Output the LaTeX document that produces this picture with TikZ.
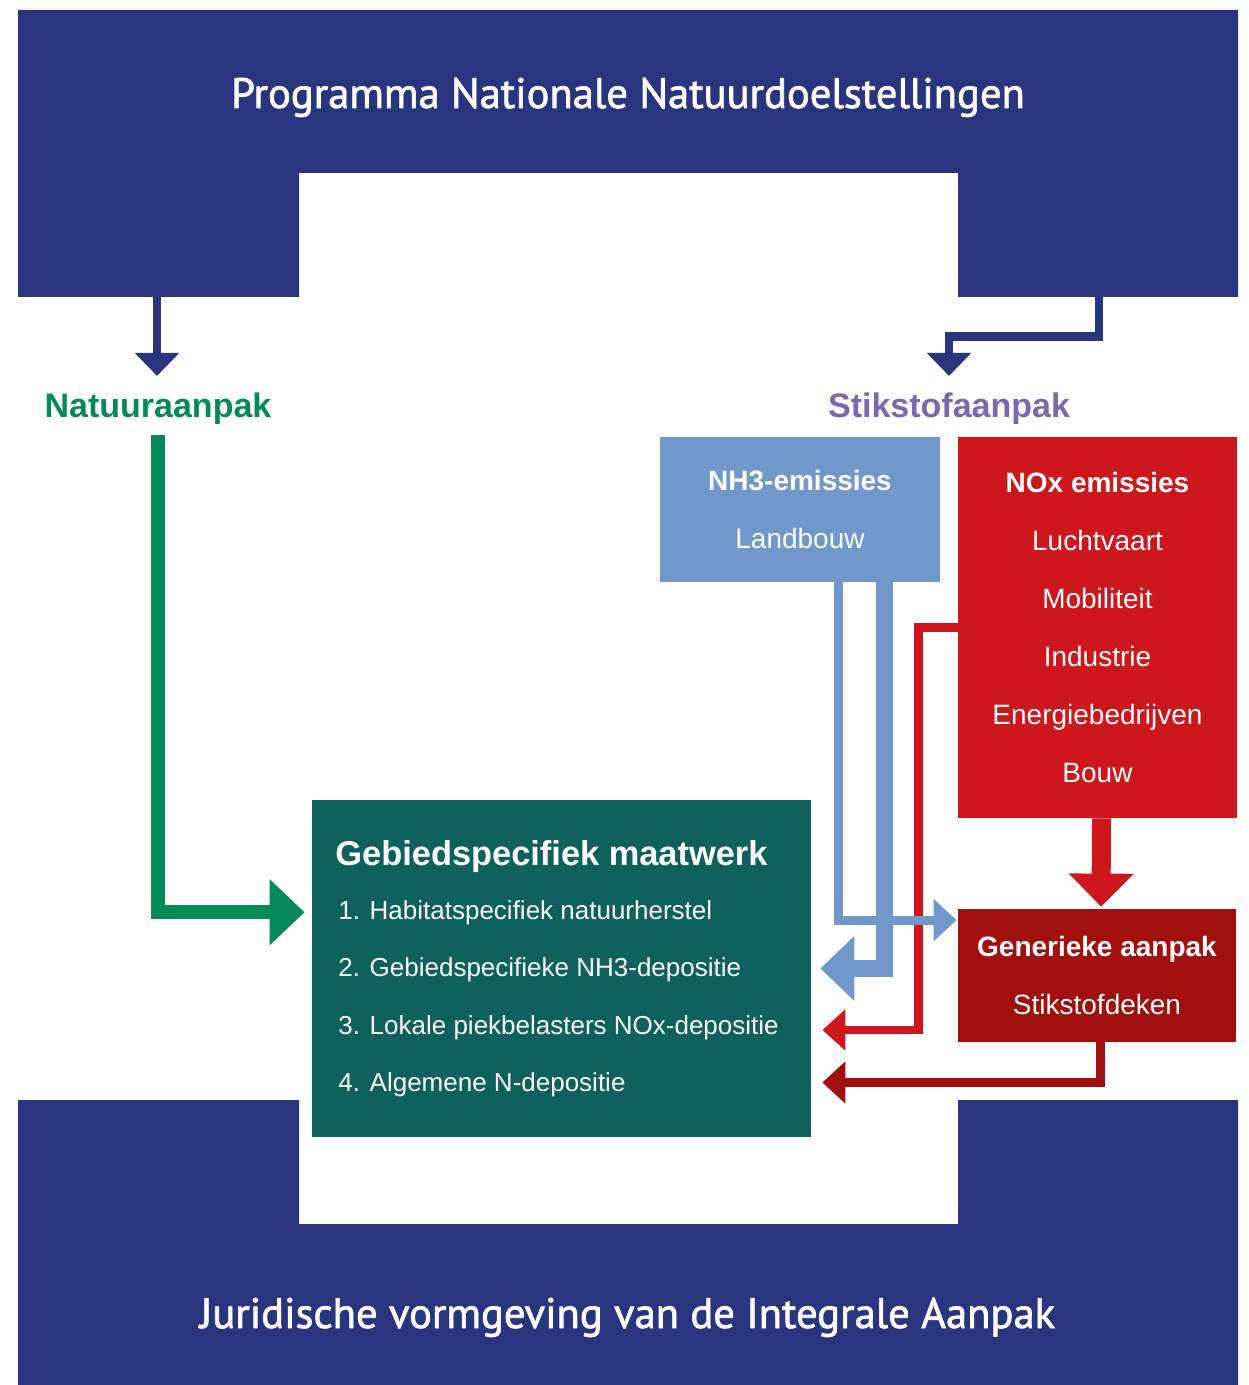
\documentclass[tikz,border=0pt]{standalone}
\usepackage{fontspec}
\setmainfont{Liberation Sans}
\newfontfamily\dinfont[FakeBold=1.6]{PT Sans}
\usetikzlibrary{arrows.meta}
\definecolor{navy}{HTML}{29367F}
\definecolor{nhblue}{HTML}{7298CB}
\definecolor{noxred}{HTML}{CE171C}
\definecolor{genred}{HTML}{A10F0E}
\definecolor{teal}{HTML}{0E615C}
\definecolor{natgreen}{HTML}{078A5A}
\definecolor{stikpurple}{HTML}{7A69AE}
\tikzset{
  frametitle/.style={text=white, inner sep=0pt, anchor=base, font=\dinfont\fontsize{21.3}{24}\selectfont},
  headlabel/.style={inner sep=0pt, anchor=base, font=\bfseries\fontsize{17}{20}\selectfont},
  colbox/.style={inner sep=0pt, text=white, align=center, font=\fontsize{14}{29}\selectfont},
  itemtext/.style={inner sep=0pt, anchor=base west, text=white, font=\fontsize{13}{15}\selectfont},
  conn/.style={line join=miter},
  navyarrow/.style={conn, draw=navy, line width=4.25pt, -{Triangle[width=21.5pt,length=11.5pt]}, navy},
  greenarrow/.style={conn, draw=natgreen, line width=7pt, -{Triangle[width=32pt,length=17.5pt]}, natgreen},
  thinblue/.style={conn, draw=nhblue, line width=4.5pt, -{Triangle[width=20.5pt,length=11.5pt]}, nhblue},
  thickblue/.style={conn, draw=nhblue, line width=8.5pt, -{Triangle[width=31.5pt,length=17pt]}, nhblue},
  thinred/.style={conn, draw=noxred, line width=4.25pt, -{Triangle[width=20pt,length=11.5pt]}, noxred},
  thickred/.style={conn, draw=noxred, line width=9.5pt, -{Triangle[width=31.5pt,length=16.5pt]}, noxred},
  darkred/.style={conn, draw=genred, line width=4.5pt, -{Triangle[width=20.5pt,length=11.5pt]}, genred},
}
\begin{document}
\begin{tikzpicture}[x=0.5pt,y=-0.5pt]
\useasboundingbox (0,0) rectangle (1248,1385);
\fill[white] (0,0) rectangle (1248,1385);
% frames
\fill[navy] (18,10) -- (1238,10) -- (1238,297) -- (958,297) -- (958,173) -- (299,173) -- (299,297) -- (18,297) -- cycle;
\fill[navy] (18,1385) -- (18,1100) -- (299,1100) -- (299,1224) -- (958,1224) -- (958,1100) -- (1238,1100) -- (1238,1385) -- cycle;
\node[frametitle] (ttop) at (628,108) {Programma Nationale Natuurdoelstellingen};
\node[frametitle] (tbot) at (627.5,1328) {Juridische vormgeving van de Integrale Aanpak};
\coordinate (legL) at (157,297);
\coordinate (legR) at (1099,297);
% labels
\node[headlabel, text=natgreen] (nat) at (158,417) {Natuuraanpak};
\node[headlabel, text=stikpurple] (stik) at (949,417) {Stikstofaanpak};
% boxes
\node[colbox, fill=nhblue, minimum width=140pt, minimum height=72.5pt] (nh) at (800,509.5)
  {\textbf{NH3-emissies}\\Landbouw};
\node[colbox, fill=noxred, minimum width=139.5pt, minimum height=190.5pt] (nox) at (1097.5,627.5)
  {\textbf{NOx emissies}\\Luchtvaart\\Mobiliteit\\Industrie\\Energiebedrijven\\Bouw};
\node[colbox, fill=genred, minimum width=139pt, minimum height=66.5pt] (gen) at (1097,975.5)
  {\textbf{Generieke aanpak}\\Stikstofdeken};
\node[fill=teal, inner sep=0pt, minimum width=249.5pt, minimum height=168.5pt] (gm) at (561.5,968.5) {};
\node[inner sep=0pt, anchor=base west, text=white, font=\bfseries\fontsize{17.2}{20}\selectfont] (gmt) at (335,865) {Gebiedspecifiek maatwerk};
\node[itemtext] (it1) at (338,919) {1. Habitatspecifiek natuurherstel};
\node[itemtext] (it2) at (338,976) {2. Gebiedspecifieke NH3-depositie};
\node[itemtext] (it3) at (338,1034) {3. Lokale piekbelasters NOx-depositie};
\node[itemtext] (it4) at (338,1091) {4. Algemene N-depositie};
% connectors
\draw[navyarrow, shorten >=8pt] (legL) -- (legL |- nat.north);
\draw[navyarrow, shorten >=8pt] (legR) -- ++(0,39.5) -| (stik.north);
\draw[greenarrow, shorten <=5.5pt, shorten >=3.5pt] (nat.south) |- (gm.west |- it1);
\draw[thickred, shorten >=1pt] ([xshift=2pt]nox.south) -- ([xshift=2pt]gen.north);
\draw[thinred, shorten >=5.5pt] (nox.west) -- ++(-39,0) |- ([yshift=-30.75pt]gm.east);
\draw[darkred, shorten >=5.5pt] ([xshift=1.5pt]gen.south) |- ([yshift=-57pt]gm.east);
\draw[thickblue, shorten >=4.5pt] ([xshift=42pt]nh.south) |- (gm.east);
\draw[thinblue, shorten >=0.5pt] ([xshift=19.25pt]nh.south) |- ([yshift=-5.75pt]gen.north west);
\end{tikzpicture}
\end{document}
